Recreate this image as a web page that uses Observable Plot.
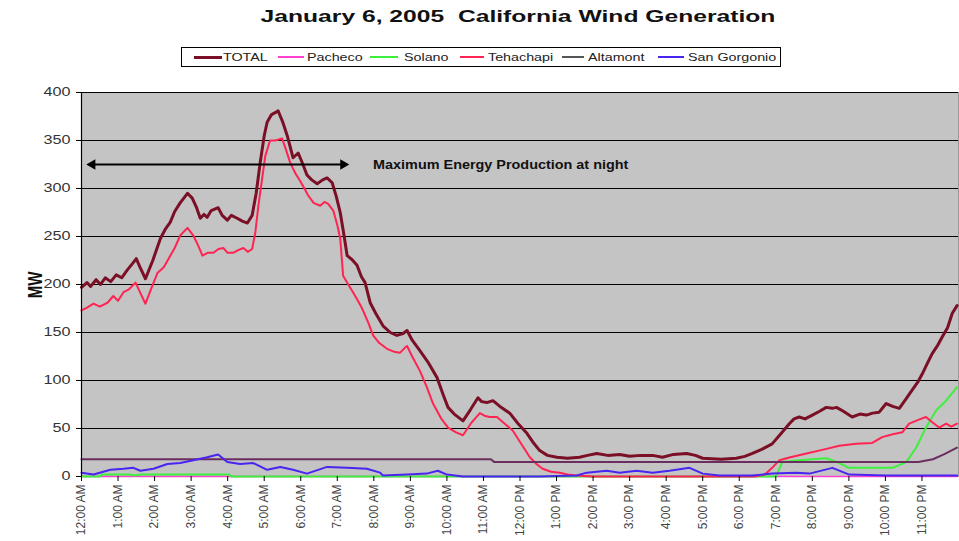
<!DOCTYPE html>
<html><head><meta charset="utf-8">
<script src="https://cdn.jsdelivr.net/npm/d3@7"></script>
<script src="https://cdn.jsdelivr.net/npm/@observablehq/plot@0.6"></script>
<style>
body{margin:0;background:#fff;font-family:"Liberation Sans",Arial,sans-serif;}
#wrap{position:relative;width:959px;height:541px;overflow:hidden;background:#fff;}
#title{position:absolute;left:518px;top:7px;white-space:pre;font-weight:bold;font-size:17px;color:#111;transform:translateX(-50%) scaleX(1.45);}
#legend{position:absolute;left:181px;top:47px;width:598px;height:18px;border:1px solid #000;background:#fff;}
.lline{position:absolute;}
.ltext{position:absolute;top:3px;font-size:11px;line-height:12px;color:#222;white-space:nowrap;transform-origin:0 50%;transform:scaleX(1.3);}
#ylabel{position:absolute;left:34px;top:285px;font-weight:bold;font-size:15px;color:#111;white-space:nowrap;transform:translate(-50%,-50%) rotate(-90deg) scaleY(1.4);}
#chart{position:absolute;left:0;top:75px;}
</style></head><body>
<div id="wrap">
  <div id="title"></div>
  <div id="legend"></div>
  <div id="ylabel">MW</div>
  <div id="chart"></div>
</div>
<script>
// ---------- DATA ----------
const chartTitle = "January 6, 2005  California Wind Generation";
const yTitle = "MW";
const seriesNames = ["TOTAL", "Pacheco", "Solano", "Tehachapi", "Altamont", "San Gorgonio"];
const hourTicks = d3.range(0, 24);
const tickLabels = ["12:00 AM","1:00 AM","2:00 AM","3:00 AM","4:00 AM","5:00 AM","6:00 AM","7:00 AM","8:00 AM","9:00 AM","10:00 AM","11:00 AM",
  "12:00 PM","1:00 PM","2:00 PM","3:00 PM","4:00 PM","5:00 PM","6:00 PM","7:00 PM","8:00 PM","9:00 PM","10:00 PM","11:00 PM"];
const yTicks = [0, 50, 100, 150, 200, 250, 300, 350, 400];

const totalHours = [0.00,0.15,0.25,0.40,0.52,0.65,0.80,0.95,1.10,1.25,1.40,1.50,1.60,1.75,1.95,2.16,2.30,2.43,2.55,2.70,2.80,2.90,3.03,3.15,3.25,3.35,3.44,3.55,3.74,3.85,3.99,4.10,4.26,4.40,4.54,4.67,4.78,4.89,5.00,5.08,5.20,5.30,5.38,5.50,5.63,5.79,5.93,6.05,6.17,6.30,6.45,6.60,6.72,6.86,6.97,7.08,7.18,7.27,7.40,7.54,7.66,7.76,7.90,8.05,8.25,8.45,8.63,8.80,8.91,9.05,9.26,9.50,9.73,9.90,10.03,10.20,10.44,10.65,10.85,10.95,11.09,11.26,11.45,11.72,11.95,12.19,12.35,12.54,12.75,13.01,13.30,13.63,13.85,14.10,14.40,14.73,15.00,15.30,15.63,15.90,16.20,16.56,16.80,17.00,17.50,17.92,18.15,18.36,18.60,18.90,19.15,19.37,19.50,19.64,19.80,20.00,20.20,20.38,20.55,20.66,20.85,21.09,21.30,21.48,21.65,21.83,22.02,22.20,22.38,22.55,22.73,22.88,23.01,23.15,23.28,23.42,23.55,23.70,23.83,23.96];
const totalMW = [197,202,198,205,200,207,203,210,207,215,222,227,218,206,225,248,258,265,276,285,290,295,290,280,269,273,270,277,280,272,267,272,269,266,264,272,295,327,355,369,377,379,381,370,355,332,337,326,314,309,305,309,311,306,292,275,252,230,226,220,208,202,181,170,157,150,147,149,152,142,131,118,103,85,72,65,58,70,82,78,77,79,73,66,55,45,36,27,22,20,19,20,22,24,22,23,21,22,22,20,23,24,22,19,18,19,21,24,28,34,45,55,60,62,60,64,68,72,71,72,68,62,65,64,66,67,76,73,71,80,90,98,107,118,128,136,145,155,170,178];

const pachecoHours = [0, 23.96];
const pachecoMW = [0, 0];

const solanoHours = [0,0.50,0.55,1.30,1.45,1.60,4.05,4.10,19.00,19.18,19.64,20.38,20.74,21.00,21.56,22.19,22.57,22.84,23.11,23.39,23.66,23.96];
const solanoMW = [0,0,2,2,1,2,2,0,0,15,17,19,14,9,9,9,15,30,51,69,79,93];

const tehachapiHours = [0.00,0.15,0.33,0.50,0.71,0.87,1.00,1.15,1.30,1.48,1.60,1.75,1.90,2.08,2.25,2.43,2.55,2.70,2.90,3.06,3.20,3.31,3.45,3.61,3.75,3.88,4.00,4.15,4.30,4.43,4.55,4.67,4.76,4.84,4.95,5.03,5.16,5.30,5.49,5.60,5.71,5.85,5.98,6.10,6.20,6.35,6.53,6.65,6.75,6.89,7.00,7.08,7.16,7.30,7.43,7.55,7.68,7.85,7.98,8.15,8.36,8.55,8.72,8.85,8.91,9.05,9.26,9.45,9.62,9.85,10.03,10.25,10.44,10.65,10.90,11.05,11.17,11.37,11.55,11.80,12.05,12.27,12.45,12.62,12.85,13.09,13.30,13.55,14.00,18.40,18.70,18.90,19.10,19.40,19.84,20.30,20.74,21.20,21.64,21.91,22.20,22.46,22.65,22.90,23.11,23.30,23.47,23.66,23.80,23.96];
const tehachapiMW = [173,176,180,177,181,188,183,192,195,202,192,180,195,212,218,230,238,251,259,251,240,230,233,233,237,238,233,233,236,238,234,237,255,282,312,334,350,350,352,340,327,316,308,300,293,285,282,286,284,277,262,248,209,200,192,184,175,160,147,139,133,130,129,134,136,125,110,93,76,60,51,46,43,55,66,63,62,62,56,48,33,20,13,8,5,4,2,1,0,0,2,9,17,20,24,28,32,34,35,41,44,46,55,59,62,56,51,55,52,55];

const altamontHours = [0, 11.20, 11.30, 22.90, 23.30, 23.60, 23.96];
const altamontMW = [18, 18, 15, 15, 18, 23, 30];

const sanGorgonioHours = [0.00,0.33,0.79,1.15,1.42,1.61,1.97,2.35,2.70,3.06,3.44,3.74,3.99,4.34,4.70,5.08,5.44,5.79,6.17,6.72,7.27,7.81,8.17,8.25,8.91,9.45,9.75,10.00,10.44,12.54,13.55,13.83,14.37,14.73,15.19,15.63,16.09,16.64,17.00,17.46,18.36,18.90,19.56,19.92,20.55,21.01,22.02,23.96];
const sanGorgonioMW = [4,2,7,8,9,6,8,13,14,17,20,23,15,13,14,7,10,7,3,10,9,8,4,1,2,3,6,2,0,0,1,4,6,4,6,4,6,9,3,1,1,3,4,3,9,2,1,1];

const annotationText = "Maximum Energy Production at night";
const arrowFromHour = 0.16, arrowToHour = 7.3, arrowMW = 325;
const annotationHour = 7.98;

// ---------- STYLES ----------
const seriesStyle = {
  "TOTAL": {color: "#7b0f25", width: 3},
  "Pacheco": {color: "#ff3fd0", width: 1.6},
  "Solano": {color: "#3ef03e", width: 2},
  "Tehachapi": {color: "#ff2452", width: 2},
  "Altamont": {color: "#6a2f5f", width: 2},
  "San Gorgonio": {color: "#4a24f0", width: 2}
};
const legendColor = {"Altamont": "#555"};

const seriesData = {
  "TOTAL": [totalHours, totalMW],
  "Pacheco": [pachecoHours, pachecoMW],
  "Solano": [solanoHours, solanoMW],
  "Tehachapi": [tehachapiHours, tehachapiMW],
  "Altamont": [altamontHours, altamontMW],
  "San Gorgonio": [sanGorgonioHours, sanGorgonioMW]
};
const rows = name => seriesData[name][0].map((h, i) => ({hour: h, mw: seriesData[name][1][i]}));

// ---------- HTML title & legend ----------
document.getElementById("title").textContent = chartTitle;
document.getElementById("ylabel").textContent = yTitle;
const legendLayout = [[12, 28, 41], [96, 26, 125], [188, 28, 222], [278, 24, 306], [380, 22, 406], [476, 26, 506]];
const legend = document.getElementById("legend");
seriesNames.forEach((name, i) => {
  const [lx, lw, tx] = legendLayout[i];
  const h = name === "TOTAL" ? 3 : 2;
  const line = document.createElement("div");
  line.className = "lline";
  line.style.left = lx + "px";
  line.style.width = lw + "px";
  line.style.height = h + "px";
  line.style.top = (9 - h / 2) + "px";
  line.style.background = legendColor[name] || seriesStyle[name].color;
  legend.appendChild(line);
  const t = document.createElement("div");
  t.className = "ltext";
  t.style.left = tx + "px";
  t.textContent = name;
  legend.appendChild(t);
});

// ---------- PLOT ----------
const chart = Plot.plot({
  width: 959,
  height: 466,
  marginTop: 17,
  marginBottom: 65,
  marginLeft: 81,
  marginRight: 1,
  style: {fontFamily: "'Liberation Sans', Arial, sans-serif", fontSize: "12px", background: "transparent"},
  x: {domain: [0, 24]},
  y: {domain: [0, 400]},
  marks: [
    Plot.frame({fill: "#c4c4c4", stroke: "#9a9a9a"}),
    Plot.ruleY(yTicks, {stroke: "#000", strokeWidth: 1.2}),
    ...seriesNames.map(name => Plot.line(rows(name), {
      x: "hour", y: "mw",
      stroke: seriesStyle[name].color,
      strokeWidth: seriesStyle[name].width,
      strokeLinejoin: "round"
    })),
    Plot.ruleX([0], {stroke: "#000", strokeWidth: 1.2}),
    Plot.ruleY([arrowMW], {x1: arrowFromHour, x2: arrowToHour, stroke: "#000", strokeWidth: 2, insetLeft: 5, insetRight: 5}),
    Plot.dot([{h: arrowFromHour}], {x: "h", y: () => arrowMW, symbol: "triangle2", rotate: -90, r: 5, fill: "#000", stroke: "none", dx: 5}),
    Plot.dot([{h: arrowToHour}], {x: "h", y: () => arrowMW, symbol: "triangle2", rotate: 90, r: 5, fill: "#000", stroke: "none", dx: -5}),
    Plot.text([{h: annotationHour, t: annotationText}], {x: "h", y: () => arrowMW, text: "t", textAnchor: "start", fontWeight: "bold", fontSize: 12, fill: "#111", dy: 1}),
    Plot.axisY({ticks: yTicks, tickSize: 5, tickPadding: 6, label: null, fill: "#333", stroke: "#000"}),
    Plot.axisX({ticks: hourTicks, tickFormat: d => tickLabels[d], tickRotate: -90, tickSize: 5, tickPadding: 3, label: null, fill: "#444", stroke: "#000"})
  ]
});
document.getElementById("chart").appendChild(chart);

// stretch horizontal text to match the wide look of the original
chart.querySelectorAll('g[aria-label="y-axis tick label"] text').forEach(t => {
  const L = t.getComputedTextLength();
  t.setAttribute("textLength", L * 1.35);
  t.setAttribute("lengthAdjust", "spacingAndGlyphs");
});
chart.querySelectorAll('g[aria-label="text"] text').forEach(t => {
  const L = t.getComputedTextLength();
  t.setAttribute("textLength", L * 1.2);
  t.setAttribute("lengthAdjust", "spacingAndGlyphs");
});
</script>
</body></html>
